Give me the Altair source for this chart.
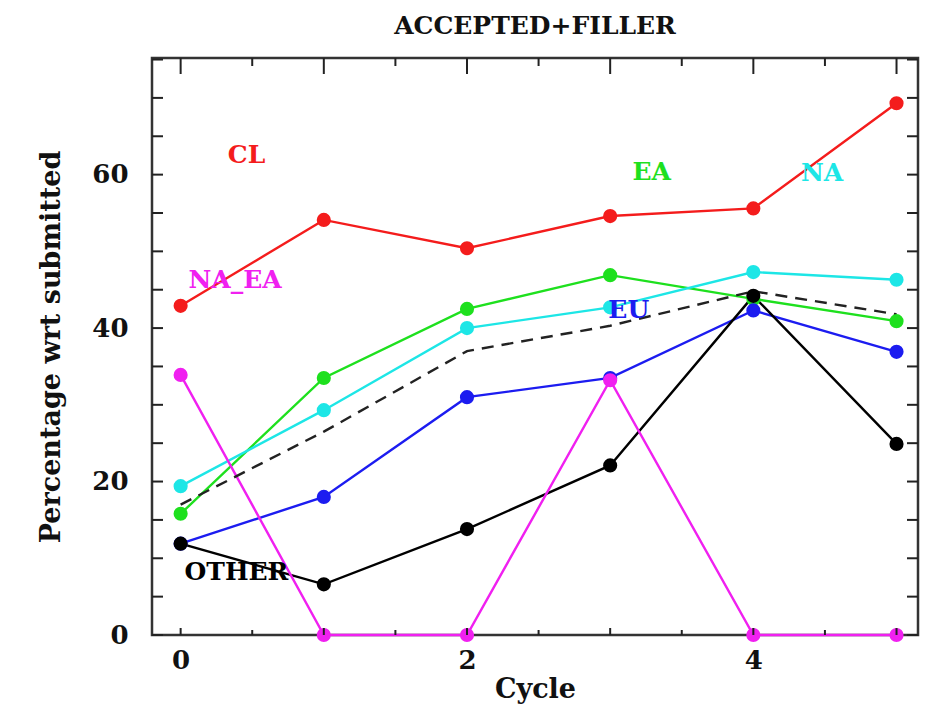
import altair as alt
import pandas as pd

# ---- data ----
cycles = [0, 1, 2, 3, 4, 5]
CL = [42.9, 54.1, 50.4, 54.6, 55.6, 69.3]
EA = [15.8, 33.5, 42.5, 46.9, 43.8, 40.9]
NA = [19.4, 29.3, 40.0, 42.7, 47.3, 46.3]
EU = [11.9, 18.0, 31.0, 33.5, 42.3, 36.9]
OTHER = [11.9, 6.6, 13.8, 22.1, 44.2, 24.9]
NA_EA = [33.9, 0.0, 0.0, 33.2, 0.0, 0.0]
TOTAL = [17.0, 26.5, 37.0, 40.3, 44.8, 41.8]   # dashed line, no markers

series_names = ["CL", "EA", "NA", "EU", "OTHER", "NA_EA"]
series_vals = [CL, EA, NA, EU, OTHER, NA_EA]
series_colors = ["#f41c1c", "#1ee01e", "#1de6e6", "#1c1cf0", "#000000", "#f020f0"]

label_names = ["CL", "NA_EA", "EA", "NA", "EU", "OTHER"]
label_x = [0.46, 0.38, 3.29, 4.48, 3.13, 0.39]
label_y = [62.5, 46.3, 60.3, 60.2, 42.3, 8.2]

y_tick_vals = list(range(0, 80, 5))
x_int_ticks = [0, 1, 2, 3, 4, 5]
x_half_ticks = [0.5, 1.5, 2.5, 3.5, 4.5]
y_label_vals = [0, 20, 40, 60]
x_label_vals = [0, 2, 4]

# ---- build tables ----
rows = []
for name, vals in zip(series_names, series_vals):
    for c, v in zip(cycles, vals):
        rows.append({"cycle": c, "pct": v, "series": name})
df = pd.DataFrame(rows)
df_total = pd.DataFrame({"cycle": cycles, "pct": TOTAL})
df_labels = pd.DataFrame({"name": label_names, "x": label_x, "y": label_y})
df_yt = pd.DataFrame({"v": y_tick_vals})
df_xi = pd.DataFrame({"v": x_int_ticks})
df_xh = pd.DataFrame({"v": x_half_ticks})

W, H = 766, 577
FONT = "DejaVu Serif"
xs = alt.Scale(domain=[-0.2, 5.15], nice=False, zero=False)
ys = alt.Scale(domain=[0, 75.2], nice=False, zero=False)
cs = alt.Scale(domain=series_names, range=series_colors)
ws = alt.Scale(domain=series_names, range=[2.4, 2.4, 2.4, 2.4, 2.4, 3.4])

x_axis = alt.Axis(values=x_label_vals, ticks=False, domain=False, grid=False,
                  labelFont=FONT, labelFontWeight="bold", labelFontSize=26,
                  labelPadding=12, labelColor="#111",
                  title="Cycle", titleFont=FONT, titleFontWeight="bold",
                  titleFontSize=27, titlePadding=3, titleColor="#111")
y_axis = alt.Axis(values=y_label_vals, ticks=False, domain=False, grid=False,
                  labelFont=FONT, labelFontWeight="bold", labelFontSize=26,
                  labelPadding=24, labelColor="#111",
                  title="Percentage wrt submitted", titleFont=FONT,
                  titleFontWeight="bold", titleFontSize=27, titlePadding=26,
                  titleColor="#111")
XT = "Cycle"
YT = "Percentage wrt submitted"

base = alt.Chart(df)
lines = base.mark_line().encode(
    x=alt.X("cycle:Q", scale=xs, axis=x_axis, title=XT),
    y=alt.Y("pct:Q", scale=ys, axis=y_axis, title=YT),
    color=alt.Color("series:N", scale=cs, legend=None),
    strokeWidth=alt.StrokeWidth("series:N", scale=ws, legend=None),
    detail="series:N",
)
pts = base.mark_point(filled=True, size=200, opacity=1, shape="circle").encode(
    x=alt.X("cycle:Q", scale=xs, axis=x_axis, title=XT),
    y=alt.Y("pct:Q", scale=ys, axis=y_axis, title=YT),
    color=alt.Color("series:N", scale=cs, legend=None),
)
dashed = alt.Chart(df_total).mark_line(strokeWidth=2.4, color="#222",
                                       strokeDash=[12, 8]).encode(
    x=alt.X("cycle:Q", scale=xs, axis=x_axis, title=XT),
    y=alt.Y("pct:Q", scale=ys, axis=y_axis, title=YT),
)
labels = alt.Chart(df_labels).mark_text(font=FONT, fontWeight="bold", fontSize=25,
                                        align="center", baseline="middle").encode(
    x=alt.X("x:Q", scale=xs, axis=x_axis, title=XT),
    y=alt.Y("y:Q", scale=ys, axis=y_axis, title=YT),
    text="name:N",
    color=alt.Color("name:N", scale=cs, legend=None),
)

def yticks(x0, x1):
    return alt.Chart(df_yt).mark_rule(color="#222", strokeWidth=2).encode(
        y=alt.Y("v:Q", scale=ys, axis=y_axis, title=YT),
        x=alt.value(x0), x2=alt.value(x1))

def xticks(d, y0, y1):
    return alt.Chart(d).mark_rule(color="#222", strokeWidth=2).encode(
        x=alt.X("v:Q", scale=xs, axis=x_axis, title=XT),
        y=alt.value(y0), y2=alt.value(y1))

ticks = [
    yticks(0, 11), yticks(W - 11, W),
    xticks(df_xi, 0, 16), xticks(df_xh, 0, 8),
    xticks(df_xi, H - 7, H), xticks(df_xh, H - 5, H),
]

chart = alt.layer(lines, dashed, pts, labels, *ticks).properties(
    width=W, height=H,
    title=alt.TitleParams("ACCEPTED+FILLER", font=FONT, fontWeight="bold",
                          fontSize=25, color="#111", anchor="middle", offset=18),
    autosize=alt.AutoSizeParams(type="none"),
    padding={"left": 144, "top": 50, "right": 8, "bottom": 69},
).configure_view(stroke="#333", strokeWidth=2.5)

chart.save("out.html", embed_options={"renderer": "svg", "actions": False})
